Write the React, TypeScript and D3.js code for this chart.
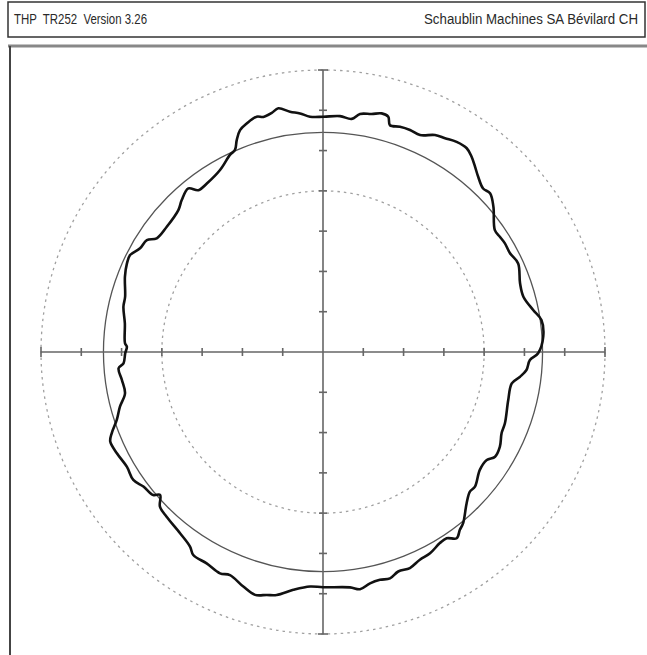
import * as d3 from "d3";
import { useEffect, useRef } from "react";

// roundness trace: angle in degrees (counter-clockwise from 3 o'clock), radius in grid units
const angles = [
  -0.35, 3.97, 8.32, 11.3, 15.43, 19.22, 24.42, 27.83, 30.85, 33.08, 35.35, 40.47, 43.54, 45.6, 48.47,
  50.64, 52.72, 54.8, 57.55, 60.28, 62.7, 65.91, 68.6, 71.13, 73.56, 74.49, 76.18, 78.44, 81.16, 82.98,
  85.88, 89.9, 93.16, 95.5, 97.82, 100.39, 102.1, 104.24, 105.74, 108.45, 110.5, 112.15, 113.54, 115.27,
  119.5, 124.58, 127.59, 129.45, 132.91, 135.54, 141.29, 145.64, 147.57, 150.46, 153.31, 155.69, 159.18,
  164.4, 167.22, 171.75, 177.48, 178.45, 180.38, 183.24, 184.55, 187.92, 191.78, 195.08, 198.24, 201.05,
  202.83, 206.15, 210.3, 214.0, 216.85, 220.12, 221.26, 223.5, 226.5, 231.74, 235.65, 237.42, 241.17,
  245.04, 247.36, 251.24, 254.37, 256.96, 259.21, 262.89, 266.83, 270, 276.55, 278.86, 281.49, 284.04,
  286.49, 288.92, 291.91, 295.0, 298.0, 301.45, 303.58, 305.67, 307.58, 309.32, 313.48, 316.46, 318.46,
  323.07, 326.59, 328.67, 331.85, 335.54, 338.6, 345.48, 350.58, 352.85, 354.95, 357.79,
];
const radii = [
  5.34, 5.48, 5.48, 5.32, 5.16, 5.18, 5.32, 5.25, 5.26, 5.24, 5.23, 5.56, 5.72, 5.68, 5.81,
  5.95, 6.09, 6.19, 6.18, 6.11, 6.06, 5.9, 5.92, 5.91, 5.87, 6.06, 6.1, 6.03, 5.98, 5.83,
  5.87, 5.84, 5.85, 5.95, 6.02, 6.15, 6.07, 6.02, 6.07, 5.98, 5.88, 5.68, 5.47, 5.41,
  5.19, 5.08, 5.07, 5.26, 5.15, 5.03, 4.97, 5.0, 5.18, 5.22, 5.36, 5.34, 5.26,
  5.1, 5.08, 4.97, 4.92, 4.87, 4.91, 4.96, 5.09, 5.04, 5.02, 5.22, 5.39, 5.62,
  5.73, 5.7, 5.64, 5.68, 5.57, 5.51, 5.38, 5.58, 5.64, 5.73, 5.85, 5.98, 5.99,
  6.06, 6.0, 6.15, 6.26, 6.19, 6.14, 5.95, 5.83, 5.84, 5.88, 5.96, 5.86, 5.83,
  5.86, 5.76, 5.78, 5.69, 5.66, 5.56, 5.55, 5.69, 5.57, 5.49, 5.18, 5.03, 5.04,
  4.87, 4.87, 5.0, 4.98, 4.87, 4.85, 4.75, 4.75, 4.93, 5.07, 5.14,
];

const gridCircles = [4, 7]; // dotted
const refCircle = 5.45; // solid reference circle
const tickValues = d3.range(-7, 8);
const headerLeft = "THP  TR252  Version 3.26";
const headerRight = "Schaublin Machines SA Bévilard CH";

export default function App() {
  const svgRef = useRef<SVGSVGElement>(null);
  const width = 647;
  const height = 655;
  const cx = 323;
  const cy = 352;
  const R = 282;

  useEffect(() => {
    const svg = d3.select(svgRef.current);
    svg.selectAll("*").remove();

    svg.append("rect").attr("width", width).attr("height", height).attr("fill", "#fff");

    // header box
    svg.append("rect")
      .attr("x", 8).attr("y", 2).attr("width", 637).attr("height", 35)
      .attr("fill", "#fff").attr("stroke", "#333").attr("stroke-width", 1.5);

    const font = "'Liberation Sans Narrow', 'Arial Narrow', 'Liberation Sans', sans-serif";
    svg.append("text")
      .attr("x", 14).attr("y", 24)
      .attr("font-family", font).attr("font-size", 14).attr("fill", "#2a2a2a")
      .attr("textLength", 133).attr("lengthAdjust", "spacingAndGlyphs")
      .style("white-space", "pre")
      .text(headerLeft);
    svg.append("text")
      .attr("x", 424).attr("y", 24)
      .attr("font-family", font).attr("font-size", 14).attr("fill", "#2a2a2a")
      .attr("textLength", 214).attr("lengthAdjust", "spacingAndGlyphs")
      .text(headerRight);

    // chart frame
    svg.append("line")
      .attr("x1", 8).attr("x2", width).attr("y1", 46).attr("y2", 46)
      .attr("stroke", "#888").attr("stroke-width", 3);
    svg.append("line")
      .attr("x1", 10).attr("x2", 10).attr("y1", 46).attr("y2", height)
      .attr("stroke", "#444").attr("stroke-width", 2);

    const r = d3.scaleLinear().domain([0, 7]).range([0, R]);
    const x = d3.scaleLinear().domain([-7, 7]).range([cx - R, cx + R]);
    const y = d3.scaleLinear().domain([-7, 7]).range([cy + R, cy - R]);

    const g = svg.append("g");

    g.selectAll("circle.grid")
      .data(gridCircles)
      .enter().append("circle")
      .attr("class", "grid")
      .attr("cx", cx).attr("cy", cy).attr("r", (d) => r(d))
      .attr("fill", "none").attr("stroke", "#a0a0a0").attr("stroke-width", 1.3)
      .attr("stroke-dasharray", "2.5,4");

    g.append("circle")
      .attr("cx", cx).attr("cy", cy).attr("r", r(refCircle))
      .attr("fill", "none").attr("stroke", "#555").attr("stroke-width", 1.3);

    // axes
    const axisColor = "#666";
    g.append("line")
      .attr("x1", x(-7)).attr("x2", x(7)).attr("y1", cy).attr("y2", cy)
      .attr("stroke", axisColor).attr("stroke-width", 1.6);
    g.append("line")
      .attr("x1", cx).attr("x2", cx).attr("y1", y(7)).attr("y2", y(-7))
      .attr("stroke", axisColor).attr("stroke-width", 1.6);

    const ticks = tickValues.filter((t) => t !== 0);
    g.selectAll("line.xt")
      .data(ticks)
      .enter().append("line")
      .attr("x1", (d) => x(d)).attr("x2", (d) => x(d))
      .attr("y1", (d) => cy - (Math.abs(d) === 7 ? 5 : 4))
      .attr("y2", (d) => cy + (Math.abs(d) === 7 ? 5 : 4))
      .attr("stroke", axisColor).attr("stroke-width", 1.6);
    g.selectAll("line.yt")
      .data(ticks)
      .enter().append("line")
      .attr("y1", (d) => y(d)).attr("y2", (d) => y(d))
      .attr("x1", (d) => cx - (Math.abs(d) === 7 ? 5 : 4))
      .attr("x2", (d) => cx + (Math.abs(d) === 7 ? 5 : 4))
      .attr("stroke", axisColor).attr("stroke-width", 1.6);

    // measured profile
    const pts = angles.map((a, i) => [a, radii[i]] as [number, number]);
    const line = d3.lineRadial<[number, number]>()
      .angle((d) => ((90 - d[0]) * Math.PI) / 180)
      .radius((d) => r(d[1]))
      .curve(d3.curveCatmullRomClosed);

    g.append("path")
      .datum(pts)
      .attr("transform", `translate(${cx},${cy})`)
      .attr("d", line)
      .attr("fill", "none")
      .attr("stroke", "#111")
      .attr("stroke-width", 2.6)
      .attr("stroke-linejoin", "round");
  }, []);

  return (
    <svg
      ref={svgRef}
      width={width}
      height={height}
      style={{ position: "absolute", left: 0, top: 0, display: "block" }}
    />
  );
}
